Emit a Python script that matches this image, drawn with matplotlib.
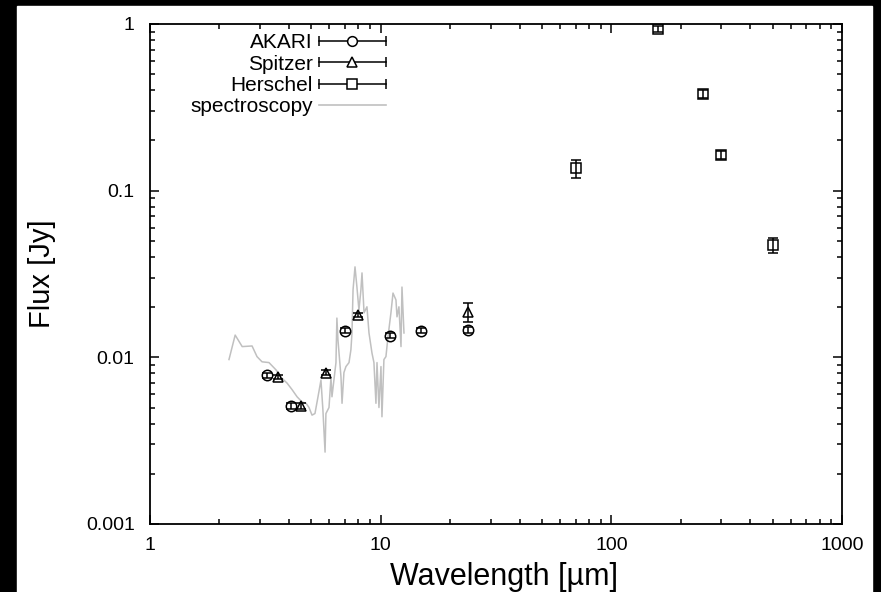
import matplotlib
matplotlib.use('Agg')
import matplotlib.pyplot as plt
from matplotlib.lines import Line2D
from matplotlib.patches import Rectangle
from matplotlib.legend_handler import HandlerBase
from matplotlib.ticker import FixedLocator, FuncFormatter, LogLocator, NullFormatter
import numpy as np

plt.rcParams['font.family'] = ['Liberation Sans', 'DejaVu Sans']

# photometry (um, Jy)
akari_wl = [3.2, 4.1, 7.0, 11.0, 15.0, 24.0]
akari_flux = [0.0078, 0.0051, 0.0144, 0.0135, 0.0144, 0.0146]
akari_err = [0.0003, 0.0002, 0.0005, 0.0005, 0.0005, 0.0006]

spitzer_wl = [3.6, 4.5, 5.8, 8.0, 24.0]
spitzer_flux = [0.0076, 0.0051, 0.0081, 0.0180, 0.0187]
spitzer_err = [0.0002, 0.0002, 0.0003, 0.0005, 0.0025]

herschel_wl = [70, 160, 250, 300, 500]
herschel_flux = [0.136, 0.93, 0.38, 0.164, 0.047]
herschel_err = [0.017, 0.04, 0.02, 0.010, 0.005]

# spectrum
spec_wl = [2.20, 2.34, 2.51, 2.77, 2.91, 3.06, 3.28, 3.52, 3.73, 3.93,
           4.13, 4.34, 4.56, 4.75, 4.89, 5.04, 5.19, 5.35, 5.51, 5.62,
           5.74, 5.79, 5.97, 6.09, 6.15, 6.40, 6.46, 6.53, 6.73, 6.80,
           6.93, 7.07, 7.29, 7.43, 7.51, 7.59, 7.74, 7.89, 8.05, 8.21,
           8.30, 8.47, 8.72, 8.90, 9.17, 9.35, 9.54, 9.64, 9.83, 10.03,
           10.13, 10.33, 10.54, 10.76, 11.08, 11.31, 11.65, 11.77, 12.00, 12.25,
           12.37, 12.62]
spec_flux = [0.0097, 0.0136, 0.0116, 0.0117, 0.0101, 0.0094, 0.0093, 0.0084, 0.0075, 0.0070,
             0.0064, 0.0058, 0.0054, 0.0053, 0.0050, 0.0045, 0.0046, 0.0058, 0.0073, 0.0048,
             0.0027, 0.0046, 0.0050, 0.0076, 0.0058, 0.0093, 0.0172, 0.0127, 0.0076, 0.0053,
             0.0081, 0.0088, 0.0093, 0.0111, 0.0140, 0.0254, 0.0349, 0.0264, 0.0192, 0.0254,
             0.0321, 0.0185, 0.0201, 0.0140, 0.0106, 0.0093, 0.0053, 0.0093, 0.0050, 0.0088,
             0.0044, 0.0097, 0.0101, 0.0133, 0.0185, 0.0243, 0.0221, 0.0175, 0.0201, 0.0116,
             0.0264, 0.0140]

x_ticks = [1, 10, 100, 1000]
y_ticks = [0.001, 0.01, 0.1, 1]


class ErrHandler(HandlerBase):
    # gnuplot like key sample: |---o---|
    def create_artists(self, legend, orig_handle, xdescent, ydescent, width, height, fontsize, trans):
        y = height / 2 - ydescent
        x0, x1 = -xdescent, width - xdescent
        bar = Line2D([x0, x1], [y, y], color='k', lw=1.1)
        caps = Line2D([x0, x1], [y, y], ls='none', marker='|', ms=7, mew=1.1, color='k')
        mk = Line2D([(x0 + x1) / 2], [y], ls='none', marker=orig_handle.get_marker(),
                    ms=7, mfc='white', mec='k', mew=1.1)
        for a in (bar, caps, mk):
            a.set_transform(trans)
        return [bar, caps, mk]


fig = plt.figure(figsize=(8.81, 5.92), dpi=100, facecolor='black')
fig.add_artist(Rectangle((17 / 881, 0), (872 - 17) / 881, (592 - 6) / 592,
                         transform=fig.transFigure, color='white', zorder=-10))
ax = fig.add_axes([150 / 881, 68 / 592, 692 / 881, 500 / 592])

ax.plot(spec_wl, spec_flux, color='#c0c0c0', lw=1.1, zorder=1)

ekw = dict(ls='none', color='k', mfc='none', mec='k', ms=7.5, mew=1.1,
           elinewidth=1.1, capsize=3.5, capthick=1.1, zorder=3)
ax.errorbar(akari_wl, akari_flux, yerr=akari_err, marker='o', **ekw)
ax.errorbar(spitzer_wl, spitzer_flux, yerr=spitzer_err, marker='^', **ekw)
ax.errorbar(herschel_wl, herschel_flux, yerr=herschel_err, marker='s', **ekw)

ax.set_xscale('log')
ax.set_yscale('log')
ax.set_xlim(1, 1000)
ax.set_ylim(0.001, 1)

fmt = FuncFormatter(lambda v, p: '%g' % v)
ax.xaxis.set_major_locator(FixedLocator(x_ticks))
ax.yaxis.set_major_locator(FixedLocator(y_ticks))
ax.xaxis.set_major_formatter(fmt)
ax.yaxis.set_major_formatter(fmt)
ax.xaxis.set_minor_locator(LogLocator(base=10, subs=np.arange(2, 10)))
ax.yaxis.set_minor_locator(LogLocator(base=10, subs=np.arange(2, 10)))
ax.xaxis.set_minor_formatter(NullFormatter())
ax.yaxis.set_minor_formatter(NullFormatter())
ax.tick_params(which='both', direction='in', top=True, right=True, width=1.1, labelsize=14)
ax.tick_params(which='major', length=6.5)
ax.tick_params(which='minor', length=3.5)
ax.tick_params(axis='y', which='major', pad=11)
ax.tick_params(axis='x', which='major', pad=9)
for s in ax.spines.values():
    s.set_linewidth(1.3)

ax.set_xlabel('Wavelength [\u00b5m]', fontsize=22)
ax.set_ylabel('Flux [Jy]', fontsize=21)
ax.xaxis.set_label_coords(0.512, -0.077)
ax.yaxis.set_label_coords(-0.136, 0.5)

h_ak = Line2D([], [], marker='o')
h_sp = Line2D([], [], marker='^')
h_he = Line2D([], [], marker='s')
h_spec = Line2D([], [], color='#c0c0c0', lw=1.2)
eh = ErrHandler()
ax.legend([h_ak, h_sp, h_he, h_spec], ['AKARI', 'Spitzer', 'Herschel', 'spectroscopy'],
          handler_map={h_ak: eh, h_sp: eh, h_he: eh},
          loc='upper left', bbox_to_anchor=(40 / 692, 1 - 9 / 500), frameon=False,
          markerfirst=False, fontsize=15, handlelength=3.2, handletextpad=0.3,
          labelspacing=0.12, borderpad=0, borderaxespad=0)

fig.savefig('out.png', dpi=100, facecolor=fig.get_facecolor())
